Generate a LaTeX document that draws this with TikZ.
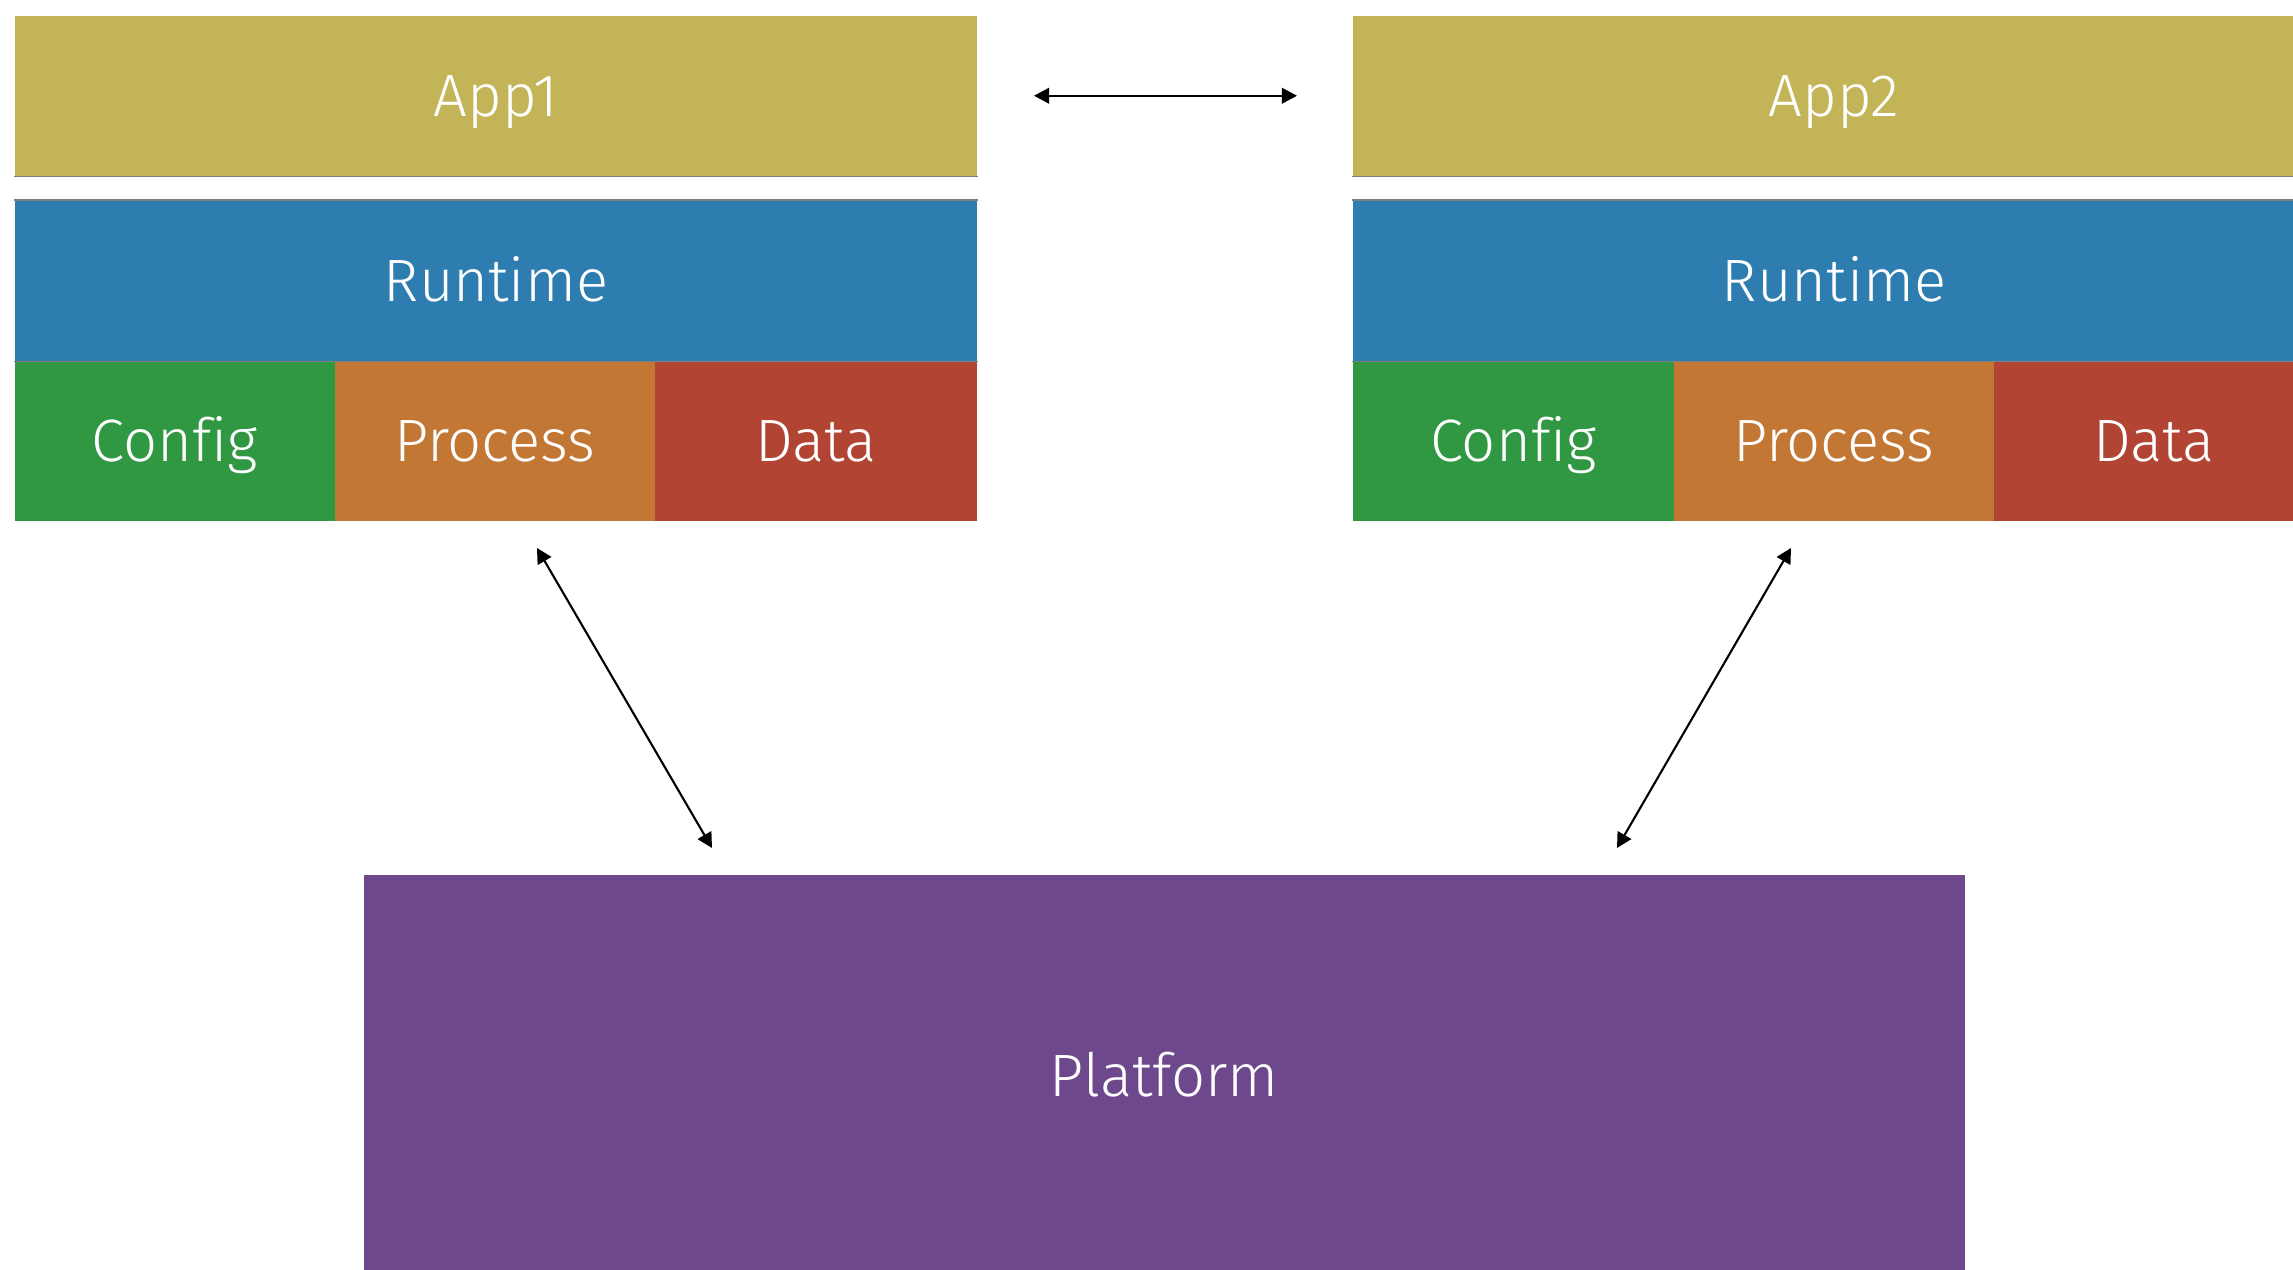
\documentclass[tikz,border=0pt]{standalone}
\usepackage{fontspec}
\setmainfont{Fira Sans Light}[Ligatures=NoCommon]
\usetikzlibrary{arrows.meta}
\definecolor{appyellow}{RGB}{196,180,88}
\definecolor{rtblue}{RGB}{45,125,176}
\definecolor{cfggreen}{RGB}{48,152,66}
\definecolor{prcorange}{RGB}{194,120,52}
\definecolor{datred}{RGB}{178,68,52}
\definecolor{platpurple}{RGB}{110,72,140}
\begin{document}
\begin{tikzpicture}[x=0.01cm,y=-0.01cm,
  block/.style={rectangle, inner sep=0pt, anchor=north west, text=white,
    minimum height=1.6cm, text height=11.8pt, text depth=0pt,
    font=\fontsize{17}{20}\selectfont},
  edge/.style={draw=black!50, line width=0.3pt},
  link/.style={line width=0.6pt, {Triangle[length=0.15cm,width=0.155cm]}-{Triangle[length=0.15cm,width=0.155cm]}}]
\clip (0,0) rectangle (2293,1270);
\fill[white] (0,0) rectangle (2293,1270);

% first application stack
\node[block, fill=appyellow, minimum width=9.62cm] (app1) at (14,15) {App1};
\node[block, fill=rtblue, minimum width=9.62cm] (rt1) at (14,200) {Runtime};
\node[block, fill=cfggreen, minimum width=3.2cm] (cfg1) at (14,360) {Config};
\node[block, fill=prcorange, minimum width=3.2cm] (prc1) at (334,360) {Process};
\node[block, fill=datred, minimum width=3.22cm] (dat1) at (654,360) {Data};

% second application stack
\node[block, fill=appyellow, minimum width=9.62cm] (app2) at (1352,15) {App2};
\node[block, fill=rtblue, minimum width=9.62cm] (rt2) at (1352,200) {Runtime};
\node[block, fill=cfggreen, minimum width=3.21cm] (cfg2) at (1352,360) {Config};
\node[block, fill=prcorange, minimum width=3.2cm] (prc2) at (1673,360) {Process};
\node[block, fill=datred, minimum width=3.21cm] (dat2) at (1993,360) {Data};

% shared platform
\node[block, fill=platpurple, minimum width=16.0cm, minimum height=4.02cm] (plat) at (363,874) {Platform};

% thin shadow edges between layers
\foreach \n in {app1,app2,rt1,rt2} {
  \draw[edge] (\n.south west) -- (\n.south east);
}
\foreach \n in {rt1,rt2} {
  \draw[edge] (\n.north west) -- (\n.north east);
}

% connectors
\coordinate (l1) at (537,548);
\coordinate (l2) at (712,848);
\coordinate (r1) at (1791,548);
\coordinate (r2) at (1617,848);
\draw[link, shorten <=0.56cm, shorten >=0.55cm] (app1) -- (app2);
\draw[link] (l1) -- (l2);
\draw[link] (r1) -- (r2);
\end{tikzpicture}
\end{document}
